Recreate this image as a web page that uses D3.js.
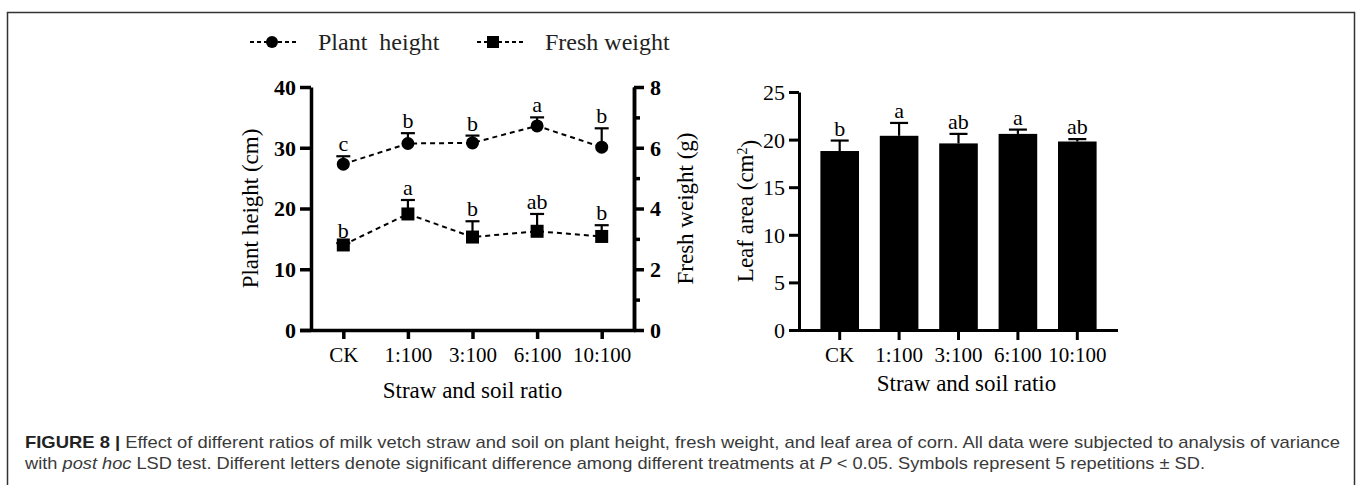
<!DOCTYPE html>
<html>
<head>
<meta charset="utf-8">
<script src="https://cdn.jsdelivr.net/npm/d3@7"></script>
<style>
  html, body { margin: 0; padding: 0; background: #fff; }
  svg { display: block; }
</style>
</head>
<body>
<svg id="fig" width="1358" height="485"></svg>
<script>
// Treatments (straw : soil ratio)
const categories = ["CK", "1:100", "3:100", "6:100", "10:100"];

// Plant height (cm), mean and SD, with LSD letters
const plantHeight = [27.3, 30.7, 30.8, 33.6, 30.1];
const plantHeightSD = [1.3, 1.7, 1.2, 1.4, 3.1];
const plantHeightLetters = ["c", "b", "b", "a", "b"];

// Fresh weight (g), mean and SD, with LSD letters
const freshWeight = [2.8, 3.82, 3.06, 3.25, 3.08];
const freshWeightSD = [0.06, 0.46, 0.52, 0.57, 0.37];
const freshWeightLetters = ["b", "a", "b", "ab", "b"];

// Leaf area (cm2), mean and SD, with LSD letters
const leafArea = [18.8, 20.4, 19.6, 20.6, 19.8];
const leafAreaSD = [1.1, 1.35, 1.0, 0.45, 0.25];
const leafAreaLetters = ["b", "a", "ab", "a", "ab"];

// Axis ticks
const heightTicks = [0, 10, 20, 30, 40];
const weightTicks = [0, 2, 4, 6, 8];
const weightMinorTicks = [1, 3, 5, 7];
const areaTicks = [0, 5, 10, 15, 20, 25];

const SERIF = "'Liberation Serif', 'Times New Roman', serif";
const SANS = "'Liberation Sans', Arial, sans-serif";

const svg = d3.select("#fig");

// Figure frame
svg.append("path")
  .attr("d", "M7.5,495 V12.5 H1354.5 V495")
  .attr("fill", "none").attr("stroke", "#333").attr("stroke-width", 1.5);

// ---------------- Left panel: plant height & fresh weight ----------------
const L = { x0: 311, x1: 634, top: 87, bottom: 330 };
const xL = d3.scalePoint().domain(categories).range([L.x0, L.x1]).padding(0.5);
const yH = d3.scaleLinear().domain([0, 40]).range([L.bottom, L.top]);
const yW = d3.scaleLinear().domain([0, 8]).range([L.bottom, L.top]);

const left = svg.append("g");

// left axis
const axH = left.append("g").attr("transform", `translate(${L.x0},0)`)
  .call(d3.axisLeft(yH).tickValues(heightTicks).tickSize(11).tickPadding(4).tickSizeOuter(0));
// right axis with minor ticks
const axW = left.append("g").attr("transform", `translate(${L.x1},0)`)
  .call(d3.axisRight(yW).tickValues(weightTicks).tickSize(10).tickPadding(6).tickSizeOuter(0));
const axWm = left.append("g").attr("transform", `translate(${L.x1},0)`)
  .call(d3.axisRight(yW).tickValues(weightMinorTicks).tickSize(6).tickFormat("").tickSizeOuter(0));
// bottom axis
const axX = left.append("g").attr("transform", `translate(0,${L.bottom})`)
  .call(d3.axisBottom(xL).tickSize(9).tickPadding(8).tickSizeOuter(0));

[axH, axW, axWm, axX].forEach(g => {
  g.select(".domain").attr("stroke", "#000").attr("stroke-width", 3.5);
  g.selectAll(".tick line").attr("stroke", "#000").attr("stroke-width", 3.5);
  g.selectAll("text").attr("fill", "#000").style("font-family", SERIF);
});
axH.selectAll("text").style("font-size", "22px").style("font-weight", "bold").attr("dy", "0.34em");
axW.selectAll("text").style("font-size", "22px").style("font-weight", "bold").attr("dy", "0.34em");
axX.selectAll("text").style("font-size", "21px");
axX.select(".domain").attr("d", `M${L.x0 - 11},0.5H${L.x1 + 1.5}`);

// axis titles
left.append("text")
  .attr("transform", `translate(258,${(L.top + L.bottom) / 2}) rotate(-90)`)
  .attr("text-anchor", "middle").style("font-family", SERIF).style("font-size", "23px")
  .text("Plant height (cm)");
left.append("text")
  .attr("transform", `translate(693,${(L.top + L.bottom) / 2}) rotate(-90)`)
  .attr("text-anchor", "middle").style("font-family", SERIF).style("font-size", "23px")
  .text("Fresh weight (g)");
left.append("text")
  .attr("x", (L.x0 + L.x1) / 2).attr("y", 398)
  .attr("text-anchor", "middle").style("font-family", SERIF).style("font-size", "23px")
  .text("Straw and soil ratio");

// series drawer
function drawSeries(values, sds, letters, yScale, shape) {
  const g = left.append("g");
  const line = d3.line().x((d, i) => xL(categories[i])).y(d => yScale(d));
  g.append("path").datum(values).attr("d", line)
    .attr("fill", "none").attr("stroke", "#000").attr("stroke-width", 2)
    .attr("stroke-dasharray", "5,4");
  // error bars (upper)
  values.forEach((v, i) => {
    const cx = xL(categories[i]);
    const yTop = yScale(v + sds[i]);
    g.append("line").attr("x1", cx).attr("x2", cx).attr("y1", yScale(v)).attr("y2", yTop)
      .attr("stroke", "#000").attr("stroke-width", 2.2);
    g.append("line").attr("x1", cx - 7).attr("x2", cx + 7).attr("y1", yTop).attr("y2", yTop)
      .attr("stroke", "#000").attr("stroke-width", 2.2);
    g.append("text").attr("x", cx).attr("y", yTop - 5).attr("text-anchor", "middle")
      .style("font-family", SERIF).style("font-size", "22px").text(letters[i]);
  });
  // markers
  values.forEach((v, i) => {
    const cx = xL(categories[i]), cy = yScale(v);
    if (shape === "circle") {
      g.append("circle").attr("cx", cx).attr("cy", cy).attr("r", 6.5).attr("fill", "#000");
    } else {
      g.append("rect").attr("x", cx - 6.5).attr("y", cy - 6.5).attr("width", 13).attr("height", 13).attr("fill", "#000");
    }
  });
}
drawSeries(plantHeight, plantHeightSD, plantHeightLetters, yH, "circle");
drawSeries(freshWeight, freshWeightSD, freshWeightLetters, yW, "square");

// legend
const legend = svg.append("g");
const legendItems = [
  { label: "Plant\u00a0\u00a0height", shape: "circle", x: 250 },
  { label: "Fresh weight", shape: "square", x: 477 }
];
legendItems.forEach(it => {
  const cy = 42;
  legend.append("line").attr("x1", it.x).attr("x2", it.x + 46).attr("y1", cy).attr("y2", cy)
    .attr("stroke", "#000").attr("stroke-width", 2).attr("stroke-dasharray", "4,3");
  if (it.shape === "circle") {
    legend.append("circle").attr("cx", it.x + 22).attr("cy", cy).attr("r", 6).attr("fill", "#000");
  } else {
    legend.append("rect").attr("x", it.x + 10).attr("y", cy - 6).attr("width", 12).attr("height", 12).attr("fill", "#000");
  }
  legend.append("text").attr("x", it.x + 68).attr("y", cy + 8)
    .style("font-family", SERIF).style("font-size", "24px").attr("fill", "#222").text(it.label);
});

// ---------------- Right panel: leaf area ----------------
const R = { x0: 799, x1: 1118, top: 92, bottom: 330 };
const xR = d3.scaleBand().domain(categories).range([R.x0, R.x1]).paddingInner(0.35).paddingOuter(0.36);
const yA = d3.scaleLinear().domain([0, 25]).range([R.bottom, R.top]);
const right = svg.append("g");

right.selectAll("rect.bar").data(leafArea).join("rect")
  .attr("class", "bar")
  .attr("x", (d, i) => xR(categories[i]))
  .attr("y", d => yA(d))
  .attr("width", xR.bandwidth())
  .attr("height", d => yA(0) - yA(d))
  .attr("fill", "#000");

leafArea.forEach((v, i) => {
  const cx = xR(categories[i]) + xR.bandwidth() / 2;
  const yTop = yA(v + leafAreaSD[i]);
  right.append("line").attr("x1", cx).attr("x2", cx).attr("y1", yA(v)).attr("y2", yTop)
    .attr("stroke", "#000").attr("stroke-width", 2.2);
  right.append("line").attr("x1", cx - 9).attr("x2", cx + 9).attr("y1", yTop).attr("y2", yTop)
    .attr("stroke", "#000").attr("stroke-width", 2.2);
  right.append("text").attr("x", cx).attr("y", yTop - 5).attr("text-anchor", "middle")
    .style("font-family", SERIF).style("font-size", "22px").text(leafAreaLetters[i]);
});

const axA = right.append("g").attr("transform", `translate(${R.x0},0)`)
  .call(d3.axisLeft(yA).tickValues(areaTicks).tickSize(10).tickPadding(4).tickSizeOuter(0));
const axXR = right.append("g").attr("transform", `translate(0,${R.bottom})`)
  .call(d3.axisBottom(xR).tickSize(10).tickPadding(7).tickSizeOuter(0));
[axA, axXR].forEach(g => {
  g.select(".domain").attr("stroke", "#000").attr("stroke-width", 3);
  g.selectAll(".tick line").attr("stroke", "#000").attr("stroke-width", 3);
  g.selectAll("text").attr("fill", "#000").style("font-family", SERIF).style("font-size", "22px");
});
axA.selectAll("text").attr("dy", "0.34em");
axXR.selectAll("text").style("font-size", "21px");
axXR.select(".domain").attr("d", `M${R.x0 - 10},0.5H${R.x1}`);

const la = right.append("text")
  .attr("transform", `translate(753,${(R.top + R.bottom) / 2}) rotate(-90)`)
  .attr("text-anchor", "middle").style("font-family", SERIF).style("font-size", "23px");
la.append("tspan").text("Leaf area (cm");
la.append("tspan").attr("dy", "-0.45em").style("font-size", "14px").text("2");
la.append("tspan").attr("dy", "0.45em").text(")");
right.append("text")
  .attr("x", (R.x0 + R.x1) / 2 + 8).attr("y", 391)
  .attr("text-anchor", "middle").style("font-family", SERIF).style("font-size", "23px")
  .text("Straw and soil ratio");

// ---------------- Caption ----------------
const cap = svg.append("g").style("font-family", SANS).style("font-size", "17px").attr("fill", "#3a3a3a");
const c1 = cap.append("text").attr("x", 25).attr("y", 448)
  .attr("textLength", 1315).attr("lengthAdjust", "spacingAndGlyphs");
c1.append("tspan").style("font-weight", "bold").attr("fill", "#222").text("FIGURE 8 | ");
c1.append("tspan").text("Effect of different ratios of milk vetch straw and soil on plant height, fresh weight, and leaf area of corn. All data were subjected to analysis of variance");
const c2 = cap.append("text").attr("x", 25).attr("y", 469)
  .attr("textLength", 1180).attr("lengthAdjust", "spacingAndGlyphs");
c2.append("tspan").text("with ");
c2.append("tspan").style("font-style", "italic").text("post hoc");
c2.append("tspan").text(" LSD test. Different letters denote significant difference among different treatments at ");
c2.append("tspan").style("font-style", "italic").text("P");
c2.append("tspan").text(" < 0.05. Symbols represent 5 repetitions \u00b1 SD.");
</script>
</body>
</html>
